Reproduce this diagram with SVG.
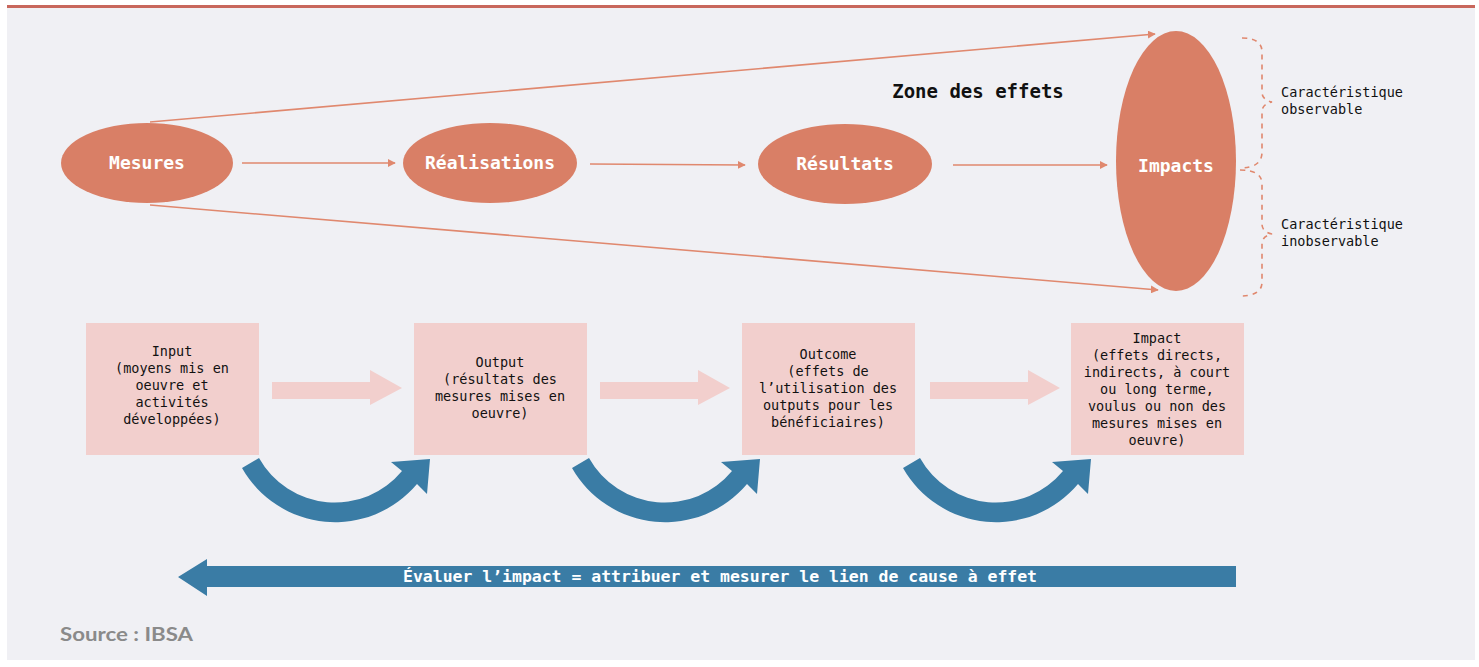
<svg xmlns="http://www.w3.org/2000/svg" width="1479" height="667" viewBox="0 0 1479 667">
<defs>
<style>
.ell{fill:#d97f66}
.et{font-family:"DejaVu Sans Mono",monospace;font-weight:bold;font-size:18px;fill:#fff;text-anchor:middle}
.ln{stroke:#e0886e;stroke-width:1.6;fill:none}
.box{fill:#f2cfcd}
.bt{font-family:"DejaVu Sans Mono",monospace;font-size:13.5px;fill:#111;text-anchor:middle}
.pa{fill:#f2cfcd}
.ba{fill:#3a7ca5}
.ct{font-family:"DejaVu Sans Mono",monospace;font-size:13.5px;fill:#111}
.br{stroke:#e0886e;stroke-width:1.6;fill:none;stroke-dasharray:5 5}
</style>
<marker id="ah" viewBox="0 0 10 10" refX="9" refY="5" markerWidth="8" markerHeight="8" markerUnits="userSpaceOnUse" orient="auto">
<path d="M0,0 L10,5 L0,10 z" fill="#e0886e"/>
</marker>
<path id="curv" d="M242,468 A107,107 0 0 0 417,484 L427,494 L430,459 L391,462 L402,471 A87,87 0 0 1 259,458 Z"/>
</defs>
<rect x="0" y="0" width="1479" height="667" fill="#ffffff"/>
<rect x="7" y="8" width="1468" height="652" fill="#f0f0f4"/>
<line x1="7" y1="6.5" x2="1475" y2="6.5" stroke="#c8675c" stroke-width="3"/>

<g id="connectors">
<line class="ln" x1="242" y1="163" x2="395" y2="163" marker-end="url(#ah)"/>
<line class="ln" x1="590" y1="164" x2="745" y2="165" marker-end="url(#ah)"/>
<line class="ln" x1="953" y1="165" x2="1107" y2="165" marker-end="url(#ah)"/>
<line class="ln" x1="150" y1="122" x2="1155" y2="34" marker-end="url(#ah)"/>
<line class="ln" x1="150" y1="205" x2="1158" y2="290" marker-end="url(#ah)"/>
<polygon class="pa" points="272,382 370,382 370,370 402,388 370,405 370,399 272,399"/>
<polygon class="pa" points="600,382 698,382 698,370 730,388 698,405 698,399 600,399"/>
<polygon class="pa" points="930,382 1028,382 1028,370 1060,388 1028,405 1028,399 930,399"/>
<use href="#curv" class="ba"/>
<use href="#curv" class="ba" transform="translate(330,0)"/>
<use href="#curv" class="ba" transform="translate(661,0)"/>
<path class="br" d="M1242,38 Q1262,38 1262,52 L1262,92 Q1262,100 1272,102 Q1262,104 1262,112 L1262,152 Q1262,168 1240,168"/>
<path class="br" d="M1240,170 Q1262,170 1262,184 L1262,224 Q1262,232 1272,234 Q1262,236 1262,244 L1262,282 Q1262,296 1240,296"/>
</g>

<g id="mesures"><ellipse class="ell" cx="147" cy="163" rx="86" ry="40"/><text class="et" x="147" y="169">Mesures</text></g>
<g id="realisations"><ellipse class="ell" cx="490" cy="163" rx="87" ry="40"/><text class="et" x="490" y="169">Réalisations</text></g>
<g id="resultats"><ellipse class="ell" cx="845" cy="164" rx="87" ry="40"/><text class="et" x="845" y="170">Résultats</text></g>
<g id="impacts"><ellipse class="ell" cx="1176" cy="161" rx="60" ry="130"/><text class="et" x="1176" y="172">Impacts</text></g>

<g id="zone"><text x="978" y="98" style="font-family:'DejaVu Sans Mono',monospace;font-weight:bold;font-size:19px;fill:#111;text-anchor:middle">Zone des effets</text></g>

<g id="carac-obs"><text class="ct" x="1281" y="97">Caractéristique</text><text class="ct" x="1281" y="114">observable</text></g>
<g id="carac-inobs"><text class="ct" x="1281" y="229">Caractéristique</text><text class="ct" x="1281" y="246">inobservable</text></g>

<g id="input"><rect class="box" x="86" y="323" width="173" height="132"/>
<text class="bt" x="172"><tspan x="172" y="356">Input</tspan><tspan x="172" y="373">(moyens mis en</tspan><tspan x="172" y="390">oeuvre et</tspan><tspan x="172" y="407">activités</tspan><tspan x="172" y="424">développées)</tspan></text></g>
<g id="output"><rect class="box" x="414" y="323" width="173" height="132"/>
<text class="bt"><tspan x="500" y="367">Output</tspan><tspan x="500" y="384">(résultats des</tspan><tspan x="500" y="401">mesures mises en</tspan><tspan x="500" y="418">oeuvre)</tspan></text></g>
<g id="outcome"><rect class="box" x="742" y="323" width="173" height="132"/>
<text class="bt"><tspan x="828" y="359">Outcome</tspan><tspan x="828" y="376">(effets de</tspan><tspan x="828" y="393">l’utilisation des</tspan><tspan x="828" y="410">outputs pour les</tspan><tspan x="828" y="427">bénéficiaires)</tspan></text></g>
<g id="impact"><rect class="box" x="1071" y="323" width="173" height="132"/>
<text class="bt"><tspan x="1157" y="343">Impact</tspan><tspan x="1157" y="360">(effets directs,</tspan><tspan x="1157" y="377">indirects, à court</tspan><tspan x="1157" y="394">ou long terme,</tspan><tspan x="1157" y="411">voulus ou non des</tspan><tspan x="1157" y="428">mesures mises en</tspan><tspan x="1157" y="445">oeuvre)</tspan></text></g>

<g id="evaluer"><polygon class="ba" points="1236,566 207,566 207,559 178,577 207,596 207,587 1236,587"/>
<text x="720" y="582" textLength="634" lengthAdjust="spacingAndGlyphs" style="font-family:'DejaVu Sans Mono',monospace;font-weight:bold;font-size:15px;fill:#fff;text-anchor:middle">Évaluer l’impact = attribuer et mesurer le lien de cause à effet</text></g>

<g id="source"><text x="60" y="641" textLength="133" lengthAdjust="spacingAndGlyphs" style="font-family:Lato,'Liberation Sans',sans-serif;font-weight:bold;font-size:19px;fill:#8a8a8a">Source : IBSA</text></g>
</svg>
